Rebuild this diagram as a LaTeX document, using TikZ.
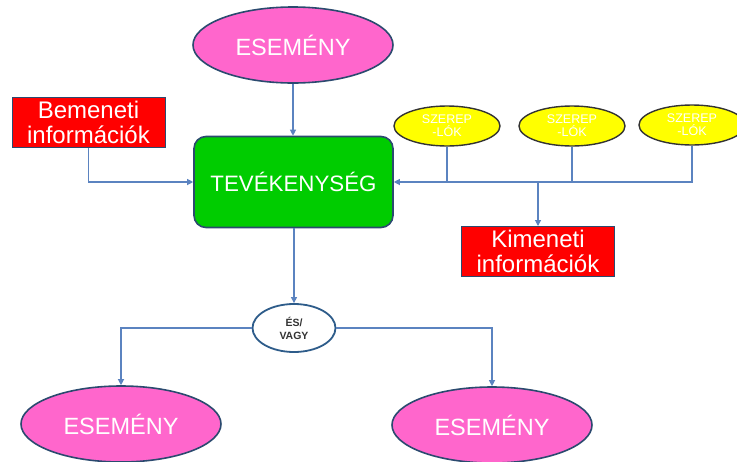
\documentclass[tikz,border=0pt]{standalone}
\usepackage{fontspec}
\setmainfont{Liberation Sans}
\usetikzlibrary{shapes.geometric,arrows.meta}
\definecolor{pinkfill}{HTML}{FF66CC}
\definecolor{greenfill}{HTML}{00CC00}
\definecolor{redfill}{HTML}{FF0000}
\definecolor{yellowfill}{HTML}{FFFF00}
\definecolor{navy}{HTML}{2B4A6F}
\definecolor{conn}{HTML}{5B83C0}
\definecolor{andborder}{HTML}{2E5C8A}
\begin{document}
\begin{tikzpicture}[x=1pt,y=-1pt,
  event/.style={ellipse,draw=navy,line width=1.6pt,fill=pinkfill,minimum width=200pt,minimum height=76pt,inner sep=0pt,text=white,font=\fontsize{23.5}{26}\selectfont},
  activity/.style={rectangle,rounded corners=12pt,draw=navy,line width=1.6pt,fill=greenfill,minimum width=199pt,minimum height=91pt,inner sep=0pt,text=white,font=\fontsize{22.3}{25}\selectfont},
  info/.style={rectangle,draw=navy,line width=1pt,fill=redfill,minimum width=153pt,minimum height=50pt,inner sep=0pt,text=white,align=center,font=\fontsize{24}{25}\selectfont},
  role/.style={ellipse,draw=black!80,line width=1.4pt,fill=yellowfill,minimum width=106pt,minimum height=40pt,inner sep=0pt,text=white,align=center,font=\fontsize{12.5}{13}\selectfont},
  andor/.style={ellipse,draw=andborder,line width=1.8pt,fill=white,minimum width=83pt,minimum height=48pt,inner sep=0pt,text=black!80,align=center,font=\bfseries\fontsize{10.5}{13}\selectfont},
  link/.style={draw=conn,line width=1.1pt},
  arr/.style={link,-{Triangle[width=6pt,length=6pt]}}]
\useasboundingbox[fill=white] (0,0) rectangle (737,461);
\node[event] (e1) at (293,45) {ESEMÉNY};
\node[activity] (act) at (293.5,182) {TEVÉKENYSÉG};
\node[info] (bem) at (88.5,122) {Bemeneti\\információk};
\node[info] (kim) at (538,251.5) {Kimeneti\\információk};
\node[role] (r1) at (447,126) {SZEREP\\-LÓK};
\node[role] (r2) at (572,126) {SZEREP\\-LÓK};
\node[role] (r3) at (692,125) {SZEREP\\-LÓK};
\node[andor] (and) at (294,328) {ÉS/\\VAGY};
\node[event] (e2) at (121,424) {ESEMÉNY};
\node[event] (e3) at (492,425) {ESEMÉNY};
\draw[arr] (e1.south |- e1.south) -- (e1.south |- act.north);
\draw[arr] (bem.south) |- (act.west);
\draw[arr] (r3.south) |- (act.east);
\draw[link] (r1.south) -- (r1.south |- act.east);
\draw[link] (r2.south) -- (r2.south |- act.east);
\coordinate (j) at (kim.north |- act.east);
\draw[arr] (j) -- (kim.north);
\draw[arr] (and.north |- act.south) -- (and.north);
\draw[arr] (and.west) -| (e2.north);
\draw[arr] (and.east) -| (e3.north);
\end{tikzpicture}
\end{document}
